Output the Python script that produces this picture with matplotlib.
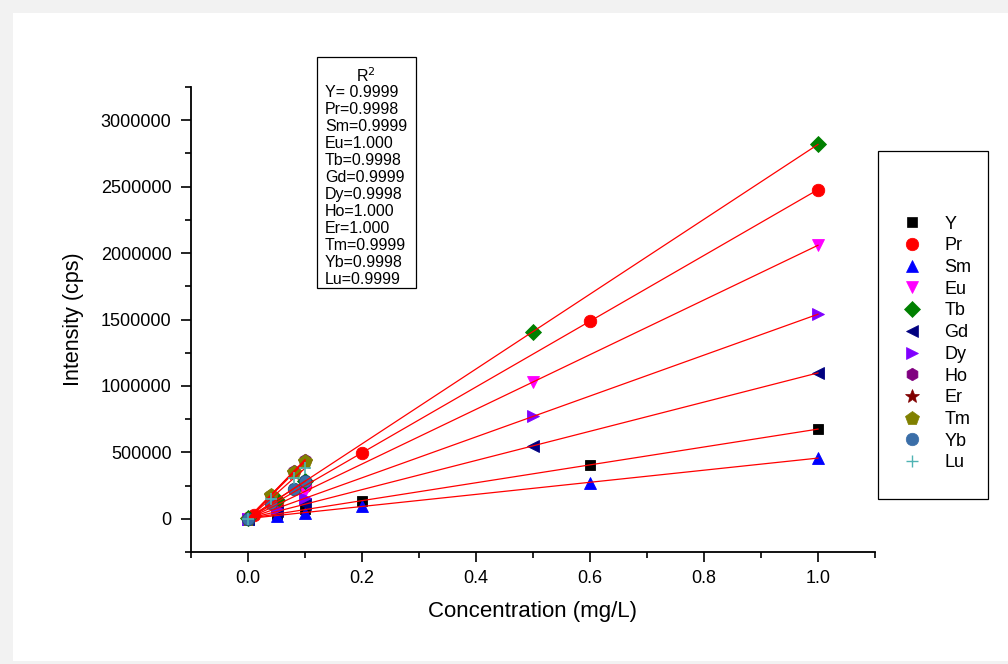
import numpy as np
import matplotlib.pyplot as plt
from matplotlib.patches import Rectangle
from matplotlib.ticker import MultipleLocator
from matplotlib.lines import Line2D

plt.rcParams['font.family'] = ['Liberation Sans', 'DejaVu Sans']

# calibration data (concentration mg/L, intensity cps)
elements = ['Y', 'Pr', 'Sm', 'Eu', 'Tb', 'Gd', 'Dy', 'Ho', 'Er', 'Tm', 'Yb', 'Lu']

y_conc = [0, 0.05, 0.1, 0.2, 0.6, 1.0]
y_int = [2000, 36000, 72000, 132000, 407000, 675000]

pr_conc = [0, 0.01, 0.05, 0.1, 0.2, 0.6, 1.0]
pr_int = [3000, 26000, 125000, 250000, 495000, 1487000, 2478000]

sm_conc = [0, 0.05, 0.1, 0.2, 0.6, 1.0]
sm_int = [1000, 24000, 47000, 95000, 272000, 458000]

eu_conc = [0, 0.05, 0.1, 0.5, 1.0]
eu_int = [2000, 103000, 207000, 1027000, 2060000]

tb_conc = [0, 0.05, 0.1, 0.5, 1.0]
tb_int = [3000, 141000, 283000, 1405000, 2820000]

gd_conc = [0, 0.05, 0.1, 0.5, 1.0]
gd_int = [1000, 55000, 110000, 545000, 1100000]

dy_conc = [0, 0.05, 0.1, 0.5, 1.0]
dy_int = [2000, 77000, 154000, 770000, 1540000]

ho_conc = [0, 0.04, 0.08, 0.1]
ho_int = [1000, 178000, 358000, 445000]

er_conc = [0, 0.04, 0.08, 0.1]
er_int = [1000, 170000, 345000, 430000]

tm_conc = [0, 0.04, 0.08, 0.1]
tm_int = [1000, 181000, 354000, 437000]

yb_conc = [0, 0.04, 0.08, 0.1]
yb_int = [1000, 120000, 225000, 282000]

lu_conc = [0, 0.04, 0.08, 0.1]
lu_int = [1000, 150000, 305000, 380000]

r2_labels = ['Y= 0.9999', 'Pr=0.9998', 'Sm=0.9999', 'Eu=1.000', 'Tb=0.9998', 'Gd=0.9999',
             'Dy=0.9998', 'Ho=1.000', 'Er=1.000', 'Tm=0.9999', 'Yb=0.9998', 'Lu=0.9999']

series = [
    (y_conc, y_int, 's', 'black', 7.5),
    (pr_conc, pr_int, 'o', '#ff0000', 9),
    (sm_conc, sm_int, '^', '#0000ff', 9),
    (eu_conc, eu_int, 'v', '#ff00ff', 9),
    (tb_conc, tb_int, 'D', '#008000', 8),
    (gd_conc, gd_int, '<', '#000080', 9),
    (dy_conc, dy_int, '>', '#8000ff', 9),
    (ho_conc, ho_int, 'h', '#800080', 9),
    (er_conc, er_int, '*', '#800000', 10),
    (tm_conc, tm_int, 'p', '#808000', 10),
    (yb_conc, yb_int, 'o', '#3a6ea8', 9),
    (lu_conc, lu_int, '+', '#4fb3b3', 9),
]

fig = plt.figure(figsize=(10.08, 6.64), dpi=100, facecolor='#f2f2f2')
fig.patches.append(Rectangle((13 / 1008, 1 - 661 / 664), 995 / 1008, 648 / 664,
                             transform=fig.transFigure, facecolor='white', edgecolor='none', zorder=-5))

ax = fig.add_axes([191 / 1008, 1 - 552 / 664, 684 / 1008, 465 / 664])
ax.set_facecolor('none')

handles = []
for (conc, inten, mk, col, ms), name in zip(series, elements):
    conc = np.array(conc)
    inten = np.array(inten)
    slope, icpt = np.polyfit(conc, inten, 1)
    xs = np.array([0, conc.max()])
    ax.plot(xs, slope * xs + icpt, color='red', lw=0.9, zorder=3)
    if mk == '+':
        ax.plot(conc, inten, ls='none', marker=mk, color=col, ms=ms, mew=1.2, zorder=4)
    else:
        ec = '#1f4a7a' if name == 'Yb' else col
        ax.plot(conc, inten, ls='none', marker=mk, color=col, mec=ec, ms=ms, mew=0.6, zorder=2)
    handles.append(Line2D([], [], ls='none', marker=mk, color=col, ms=ms,
                          mew=1.0 if mk == '+' else 0.5))

ax.set_xlim(-0.1, 1.1)
ax.set_ylim(-250000, 3250000)
ax.xaxis.set_major_locator(MultipleLocator(0.2))
ax.xaxis.set_minor_locator(MultipleLocator(0.1))
ax.yaxis.set_major_locator(MultipleLocator(500000))
ax.yaxis.set_minor_locator(MultipleLocator(250000))
ax.ticklabel_format(style='plain', axis='y')
for s in ['top', 'right']:
    ax.spines[s].set_visible(False)
for s in ['left', 'bottom']:
    ax.spines[s].set_linewidth(1.3)
ax.tick_params(which='major', direction='out', length=7, width=1.2, labelsize=13)
ax.tick_params(which='minor', direction='out', length=4, width=1.2)
ax.tick_params(axis='y', pad=7)
ax.tick_params(axis='x', pad=6)
ax.set_xlabel('Concentration (mg/L)', fontsize=16, labelpad=10)
ax.set_ylabel('Intensity (cps)', fontsize=15.5, labelpad=12)

# R^2 box
fig.patches.append(Rectangle((317 / 1008, 1 - 288 / 664), 99 / 1008, 231 / 664,
                             transform=fig.transFigure, facecolor='white', edgecolor='black', lw=0.9, zorder=5))
fig.text(366 / 1008, 1 - 76 / 664, 'R$^2$', ha='center', va='center', fontsize=11.5, zorder=6)
fig.text(325 / 1008, 1 - 85 / 664, '\n'.join(r2_labels), ha='left', va='top', fontsize=11.5,
         linespacing=1.165, zorder=6)

# legend box
fig.patches.append(Rectangle((878 / 1008, 1 - 499 / 664), 110 / 1008, 348 / 664,
                             transform=fig.transFigure, facecolor='white', edgecolor='black', lw=0.9, zorder=5))
leg = fig.legend(handles, elements, loc='center', bbox_to_anchor=(936 / 1008, 1 - 343.5 / 664),
                 frameon=False, fontsize=13, labelspacing=0.26, handlelength=1.2, handletextpad=1.2)
leg.set_zorder(6)

fig.savefig('out.png', dpi=100, facecolor=fig.get_facecolor())
